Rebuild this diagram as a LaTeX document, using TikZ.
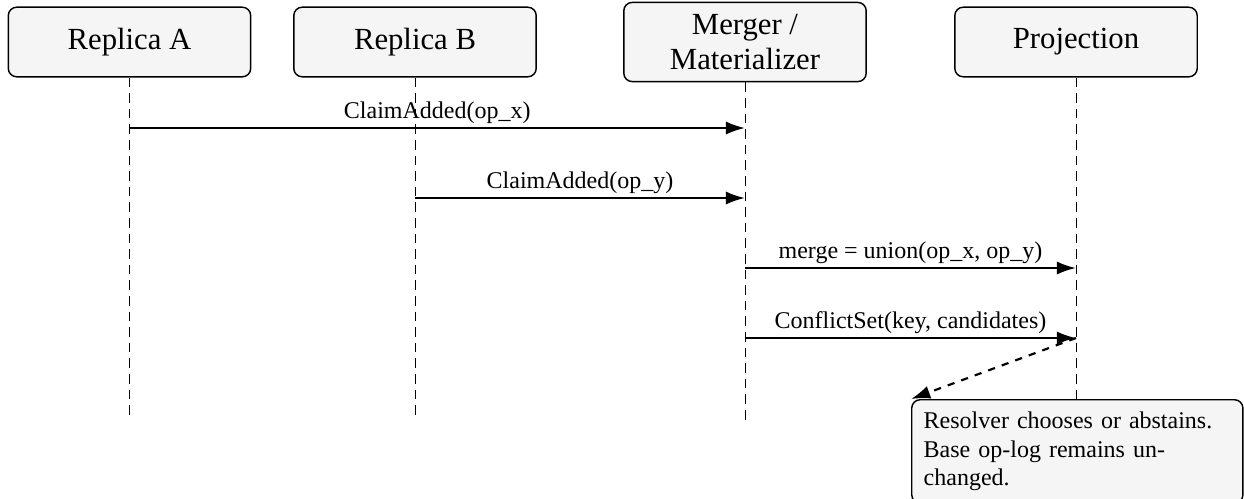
\documentclass[tikz,border=0pt]{standalone}
\usepackage{fontspec}
\setmainfont{Liberation Serif}
\usetikzlibrary{arrows.meta, positioning}

\tikzset{
  actor/.style={draw, semithick, rounded corners=3.5pt, fill=gray!8,
    minimum width=101pt, minimum height=29pt, font=\fontsize{12.8}{14.5}\selectfont, align=center},
  lifeline/.style={thin, dash pattern=on 4pt off 2.5pt},
  msg/.style={line width=0.9pt, -{Latex[length=8pt,width=5.5pt]}},
  msglabel/.style={above, inner sep=1.2pt},
  note/.style={draw, semithick, rounded corners=3.5pt, fill=gray!8,
    text width=128pt, inner sep=5pt, align=left, anchor=north west}
}

\begin{document}
\begin{tikzpicture}[x=0.41667pt, y=-0.41667pt]
    \useasboundingbox (0,0) rectangle (1244,498);

    % participants
    \node[actor] (ra) at (129.5,42) {Replica A};
    \node[actor] (rb) at (415,42) {Replica B};
    \node[actor, minimum height=33pt] (mm) at (745,42) {Merger /\\Materializer};
    \node[actor] (pj) at (1076,42) {Projection};

    % note
    \node[note] (nt) at (911,399) {Resolver chooses or abstains.\\Base op-log remains un-\\changed.};

    % lifelines
    \coordinate (ra-end) at (129.5,416);
    \coordinate (rb-end) at (415,416);
    \coordinate (mm-end) at (745,422);
    \draw[lifeline] (ra) -- (ra-end);
    \draw[lifeline] (rb) -- (rb-end);
    \draw[lifeline] (mm) -- (mm-end);
    \draw[lifeline] (pj) -- (pj |- nt.north);

    % message points
    \coordinate (ra-1) at (129.5,128);
    \coordinate (mm-1) at (745,128);
    \coordinate (rb-2) at (415,198);
    \coordinate (mm-2) at (745,198);
    \coordinate (mm-3) at (745,268);
    \coordinate (pj-3) at (1076,268);
    \coordinate (mm-4) at (745,338);
    \coordinate (pj-4) at (1076,338);

    % messages
    \draw[msg] (ra-1) -- node[msglabel]{ClaimAdded(op\_x)} (mm-1);
    \draw[msg] (rb-2) -- node[msglabel]{ClaimAdded(op\_y)} (mm-2);
    \draw[msg] (mm-3) -- node[msglabel]{merge = union(op\_x, op\_y)} (pj-3);
    \draw[msg] (mm-4) -- node[msglabel]{ConflictSet(key, candidates)} (pj-4);
    \draw[msg, dashed] (pj-4) -- (nt.north west);
\end{tikzpicture}
\end{document}
